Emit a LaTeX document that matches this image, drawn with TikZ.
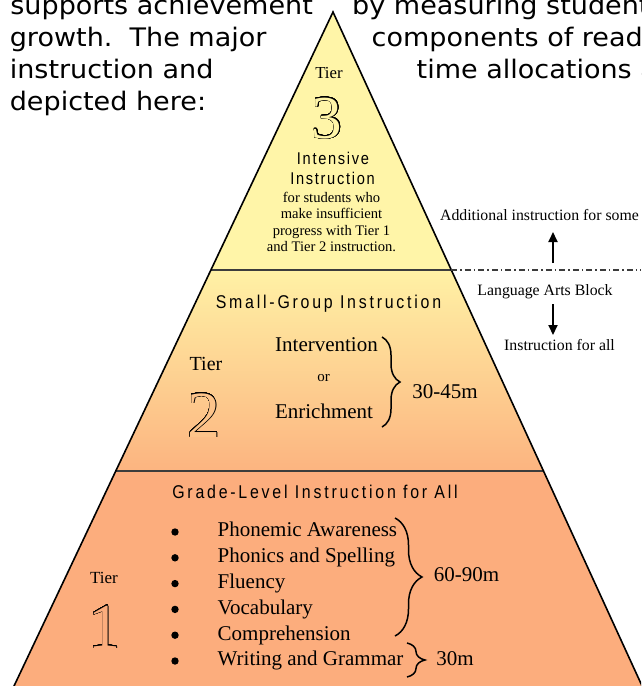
\documentclass[tikz,border=0pt]{standalone}
\usepackage{fontspec}
\setmainfont{Liberation Serif}
\newfontfamily\parafont[FakeStretch=1.06]{DejaVu Sans}
\newfontfamily\headfont[FakeStretch=0.86,LetterSpace=15]{Liberation Sans}
\newfontfamily\headfontsm[FakeStretch=0.86,LetterSpace=10]{Liberation Sans}
\usepackage[copies]{contour}
\contourlength{0.5pt}
\contournumber{32}
\usetikzlibrary{arrows.meta,decorations.pathreplacing}

\definecolor{tierthree}{RGB}{255,245,168}
\definecolor{tiertwotop}{RGB}{255,241,165}
\definecolor{tiertwobot}{RGB}{252,180,128}
\definecolor{tiertwomid}{RGB}{253,196,138}
\definecolor{tierone}{RGB}{252,173,125}
\definecolor{divider}{RGB}{60,60,60}

% outlined digits: thin black rim, inside in the colour of the band
\newcommand{\hollow}[2]{\contour{black}{\textcolor{#1}{#2}}}

\tikzset{
  romantext/.style={anchor=base, inner sep=0pt, outer sep=0pt},
  paraline/.style={anchor=base west, inner sep=0pt, font=\parafont\fontsize{25.5}{32}\selectfont},
  tierhead/.style={anchor=base, inner sep=0pt, font=\headfont\fontsize{18.5}{22}\selectfont},
  tophead/.style={anchor=base, inner sep=0pt, font=\headfontsm\fontsize{17}{20}\selectfont},
  smallnote/.style={romantext, font=\fontsize{14.6}{17}\selectfont},
  sidenote/.style={romantext, font=\fontsize{15.8}{19}\selectfont},
  bigtext/.style={romantext, font=\fontsize{21}{25}\selectfont},
  itemtext/.style={anchor=base west, inner sep=0pt, font=\fontsize{21}{25}\selectfont},
  bulletmark/.style={circle, fill=black, inner sep=0pt, minimum size=7.4pt},
  hollowdigit/.style={anchor=base, inner sep=0pt},
  pyredge/.style={draw=black, line width=1.6pt, line join=miter},
  divline/.style={draw=divider, line width=1.3pt},
  blockline/.style={draw=divider, line width=1.1pt, dash pattern=on 6pt off 3pt on 1.5pt off 3pt},
  flowarrow/.style={draw=black, line width=2pt, -{Triangle[length=10pt,width=9pt]}},
  timebrace/.style={draw=black, line width=1.5pt, decorate, decoration={brace, amplitude=#1}},
}

\begin{document}
\begin{tikzpicture}[x=1pt,y=-1pt]
\useasboundingbox (0,0) rectangle (641,686);
\clip (0,0) rectangle (641,686);
\fill[white] (0,0) rectangle (641,686);

% ---- pyramid outline points ----
\coordinate (apex) at (333,12);
\coordinate (l3) at (210.9,270);
\coordinate (r3) at (451.3,270);
\coordinate (l2) at (115.8,471);
\coordinate (r2) at (543.4,471);
\coordinate (l1) at (7.4,700);
\coordinate (r1) at (648.5,700);
\coordinate (blockend) at (641,270);

% ---- tier fills ----
\fill[tierthree] (apex) -- (r3) -- (l3) -- cycle;
\shade[top color=tiertwotop, bottom color=tiertwobot] (l3) -- (r3) -- (r2) -- (l2) -- cycle;
\fill[tierone] (l2) -- (r2) -- (r1) -- (l1) -- cycle;
\draw[divline] (l3) -- (r3);
\draw[divline] (l2) -- (r2);
\draw[pyredge] (l1) -- (apex) -- (r1);
\draw[blockline] (r3) -- (blockend);

% ---- surrounding paragraph ----
\node[paraline] (pA) at (10.2,14) {supports achievement};
\node[paraline] (pB) at (9.6,46.5) {growth.\ \ The major};
\node[paraline] (pC) at (9.6,78.7) {instruction and};
\node[paraline] (pD) at (9.6,110.5) {depicted here:};
\node[paraline] (qA) at (352,14) {by measuring student};
\node[paraline] (qB) at (371.5,46.5) {components of read};
\node[paraline] (qC) at (416.5,78.7) {time allocations a};

% ---- tier 3 ----
\node[romantext, font=\fontsize{16.8}{20}\selectfont] (tierthreelab) at (329,78) {Tier};
\node[hollowdigit, font=\fontsize{61}{61}\selectfont] (numthree) at (327,138) {\hollow{tierthree}{3}};
\node[tophead] (intensive) at (333,164) {Intensive};
\node[tophead] (intensivetwo) at (332.5,184) {Instruction};
\node[smallnote] (descA) at (331.5,202) {for students who};
\node[smallnote] (descB) at (331.5,218.6) {make insufficient};
\node[smallnote] (descC) at (331.5,235.2) {progress with Tier 1};
\node[smallnote] (descD) at (331.5,251.8) {and Tier 2 instruction.};

% ---- block labels and arrows ----
\node[sidenote] (additional) at (539.5,220.7) {Additional instruction for some};
\node[sidenote] (lablock) at (545,295) {Language Arts Block};
\node[sidenote] (forall) at (559.5,350) {Instruction for all};
\coordinate (uptail) at (553,263);
\coordinate (uphead) at (553,232);
\coordinate (downtail) at (553,304);
\coordinate (downhead) at (553,335);
\draw[flowarrow] (uptail) -- (uphead);
\draw[flowarrow] (downtail) -- (downhead);

% ---- tier 2 ----
\node[tierhead] (smallgroup) at (328.5,308.3) {Small-Group Instruction};
\node[romantext, font=\fontsize{20}{24}\selectfont] (tiertwolab) at (206,370) {Tier};
\node[hollowdigit, font=\fontsize{66}{66}\selectfont] (numtwo) at (204,437) {\hollow{tiertwomid}{2}};
\node[bigtext] (intervention) at (326.5,351) {Intervention};
\node[romantext, font=\fontsize{15}{18}\selectfont] (ornode) at (323.5,381.7) {or};
\node[bigtext] (enrichment) at (324,418.3) {Enrichment};
\coordinate (bAtop) at (382,337);
\coordinate (bAbot) at (382,427);
\draw[timebrace=18pt] (bAtop) -- (bAbot);
\node[bigtext] (timetwo) at (445,398.3) {30-45m};

% ---- tier 1 ----
\node[tierhead] (gradelevel) at (315,498.3) {Grade-Level Instruction for All};
\node[romantext, font=\fontsize{17}{20}\selectfont] (tieronelab) at (104,583.3) {Tier};
\node[hollowdigit, font=\fontsize{64}{64}\selectfont] (numone) at (104.5,648) {\hollow{tierone}{1}};
\foreach \nm/\txt [count=\i from 0] in {iA/Phonemic Awareness, iB/Phonics and Spelling, iC/Fluency, iD/Vocabulary, iE/Comprehension, iF/Writing and Grammar}{
  \node[bulletmark] (\nm dot) at (175,532+25.8*\i) {};
  \node[itemtext] (\nm) at (217.5,536.8+25.8*\i) {\txt};
}
\coordinate (bBtop) at (395,518);
\coordinate (bBbot) at (395,636);
\draw[timebrace=27pt] (bBtop) -- (bBbot);
\node[bigtext] (timeone) at (466.5,581.7) {60-90m};
\coordinate (bCtop) at (407,643);
\coordinate (bCbot) at (407,677);
\draw[timebrace=18pt] (bCtop) -- (bCbot);
\node[bigtext] (timewrite) at (455,665) {30m};
\end{tikzpicture}
\end{document}
